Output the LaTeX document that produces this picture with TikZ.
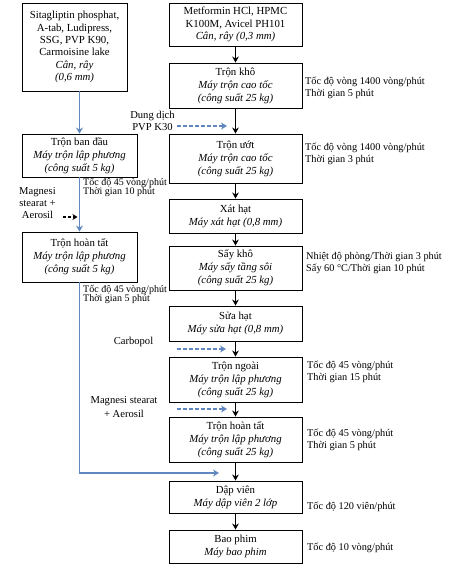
\documentclass[tikz,border=0pt]{standalone}
\usepackage{fontspec}
\setmainfont{Liberation Serif}
\usetikzlibrary{arrows.meta}
\definecolor{flowblue}{RGB}{96,135,192}
\begin{document}
\begin{tikzpicture}[x=1pt,y=-1pt,
  box/.style={draw, line width=0.9pt, inner sep=0pt, align=center, font=\fontsize{10.8}{13}\selectfont},
  tbox/.style={box, font=\fontsize{10.8}{12.4}\selectfont},
  lbl/.style={inner sep=0pt, align=left, anchor=west, font=\fontsize{10.3}{12}\selectfont},
  slbl/.style={inner sep=0pt, align=left, anchor=west, font=\fontsize{10}{9.5}\selectfont},
  clbl/.style={inner sep=0pt, align=center, font=\fontsize{10.6}{12}\selectfont},
  blk/.style={-{Stealth[length=6pt,width=6.5pt]}, line width=0.8pt},
  bsolid/.style={-{Stealth[length=6pt,width=7pt]}, line width=1.8pt, draw=flowblue},
  bdash/.style={-{Stealth[length=6pt,width=7pt]}, line width=1.8pt, draw=flowblue, dash pattern=on 4pt off 2pt},
  kdash/.style={-{Stealth[length=5pt,width=6pt]}, line width=1.2pt, dash pattern=on 3pt off 2pt},
]
\fill[white] (0,0) rectangle (448,571);
\useasboundingbox (0,0) rectangle (448,571);

% left column
\node[tbox, minimum width=105pt, minimum height=88pt] (L1) at (74.5,47)
  {Sitagliptin phosphat,\\A-tab, Ludipress,\\SSG, PVP K90,\\Carmoisine lake\\\textit{Cân, rây}\\\textit{(0,6 mm)}};
\node[box, minimum width=115pt, minimum height=43pt] (L2) at (79.5,155.5)
  {Trộn ban đầu\\\textit{Máy trộn lập phương}\\\textit{(công suất 5 kg)}};
\node[box, minimum width=115pt, minimum height=50pt] (L3) at (79.5,257)
  {Trộn hoàn tất\\\textit{Máy trộn lập phương}\\\textit{(công suất 5 kg)}};

% middle column
\node[tbox, minimum width=133pt, minimum height=43pt] (M1) at (235.5,24.5)
  {Metformin HCl, HPMC\\K100M, Avicel PH101\\\textit{Cân, rây (0,3 mm)}};
\node[box, minimum width=133pt, minimum height=45pt] (M2) at (235.5,85.5)
  {Trộn khô\\\textit{Máy trộn cao tốc}\\\textit{(công suất 25 kg)}};
\node[box, minimum width=133pt, minimum height=49pt] (M3) at (235.5,158.5)
  {Trộn ướt\\\textit{Máy trộn cao tốc}\\\textit{(công suất 25 kg)}};
\node[box, minimum width=133pt, minimum height=34pt] (M4) at (235.5,216)
  {Xát hạt\\\textit{Máy xát hạt (0,8 mm)}};
\node[box, minimum width=133pt, minimum height=44pt] (M5) at (235.5,268)
  {Sấy khô\\\textit{Máy sấy tầng sôi}\\\textit{(công suất 25 kg)}};
\node[box, minimum width=133pt, minimum height=35pt] (M6) at (235.5,323.5)
  {Sửa hạt\\\textit{Máy sửa hạt (0,8 mm)}};
\node[box, minimum width=133pt, minimum height=45pt] (M7) at (235.5,379.5)
  {Trộn ngoài\\\textit{Máy trộn lập phương}\\\textit{(công suất 25 kg)}};
\node[box, minimum width=133pt, minimum height=45pt] (M8) at (235.5,439.5)
  {Trộn hoàn tất\\\textit{Máy trộn lập phương}\\\textit{(công suất 25 kg)}};
\node[box, minimum width=133pt, minimum height=32pt] (M9) at (235.5,497)
  {Dập viên\\\textit{Máy dập viên 2 lớp}};
\node[box, minimum width=133pt, minimum height=33pt] (M10) at (235.5,546.5)
  {Bao phim\\\textit{Máy bao phim}};

% black arrows in middle column
\draw[blk] (M1) -- (M2);
\draw[blk] (M2) -- (M3);
\draw[blk] (M3) -- (M4);
\draw[blk] (M4) -- (M5);
\draw[blk] (M5) -- (M6);
\draw[blk] (M6) -- (M7);
\draw[blk] (M7) -- (M8);
\draw[blk] (M8) -- (M9);
\draw[blk] (M9) -- (M10);

% blue arrows on left
\draw[bsolid] (L1.south -| L2.north) -- (L2.north);
\draw[bsolid] (L2) -- (L3);
\coordinate (e1) at (219,473);
\draw[bsolid, -{Stealth[length=6pt,width=7pt]}] (L3.south) |- (e1);

% dashed additions
\coordinate (d1s) at (177,126); \coordinate (d1e) at (227,126);
\draw[bdash] (d1s) -- (d1e);
\coordinate (d2s) at (177,349); \coordinate (d2e) at (226,349);
\draw[bdash] (d2s) -- (d2e);
\coordinate (d3s) at (177,409); \coordinate (d3e) at (227,409);
\draw[bdash] (d3s) -- (d3e);
\coordinate (k1s) at (63,217); \coordinate (k1e) at (77.5,217);
\draw[kdash] (k1s) -- (k1e);

% input labels
\node[clbl] (t1) at (152.5,121) {Dung dịch\\PVP K30};
\node[clbl] (t2) at (37.5,203) {Magnesi\\stearat +\\Aerosil};
\node[clbl] (t3) at (133.5,342) {Carbopol};
\node[clbl, font=\fontsize{10.6}{13.5}\selectfont] (t4) at (124,407) {Magnesi stearat\\+ Aerosil};

% small condition labels on left
\node[slbl] (s1) at (83,187.5) {Tốc độ 45 vòng/phút\\Thời gian 10 phút};
\node[slbl] (s2) at (83,294.5) {Tốc độ 45 vòng/phút\\Thời gian 5 phút};

% right condition labels
\node[lbl] (r2) at (305,88) {Tốc độ vòng 1400 vòng/phút\\Thời gian 5 phút};
\node[lbl] (r3) at (305,153.5) {Tốc độ vòng 1400 vòng/phút\\Thời gian 3 phút};
\node[lbl] (r5) at (306,263.5) {Nhiệt độ phòng/Thời gian 3 phút\\Sấy 60 °C/Thời gian 10 phút};
\node[lbl] (r7) at (307,371.5) {Tốc độ 45 vòng/phút\\Thời gian 15 phút};
\node[lbl] (r8) at (307,440) {Tốc độ 45 vòng/phút\\Thời gian 5 phút};
\node[lbl] (r9) at (307,507) {Tốc độ 120 viên/phút};
\node[lbl] (r10) at (307,548) {Tốc độ 10 vòng/phút};
\end{tikzpicture}
\end{document}
